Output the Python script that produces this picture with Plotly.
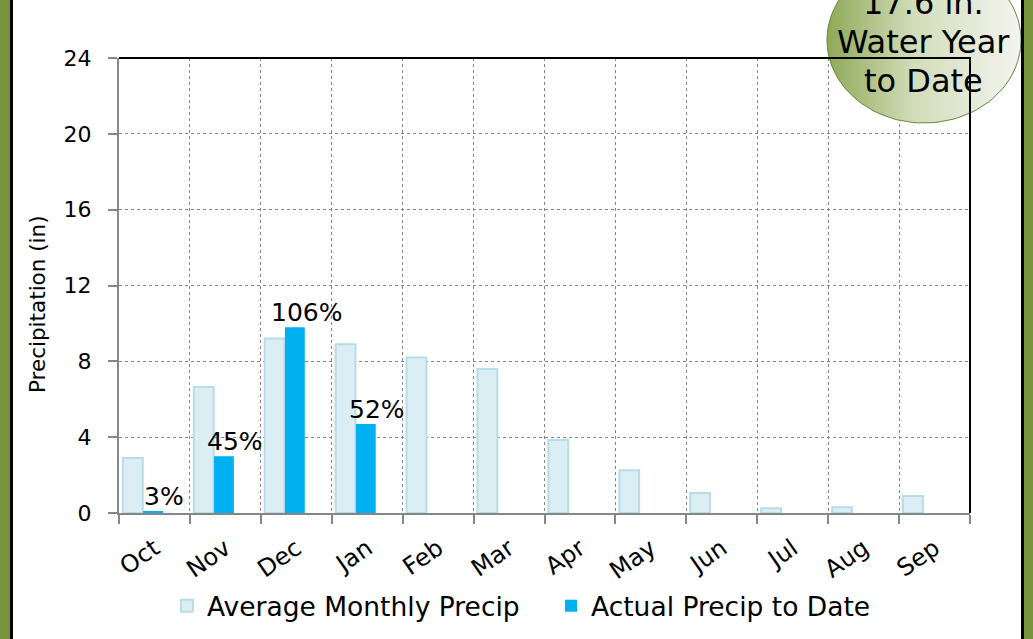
import numpy as np
import plotly.graph_objects as go

months = ["Oct", "Nov", "Dec", "Jan", "Feb", "Mar", "Apr", "May", "Jun", "Jul", "Aug", "Sep"]
avg_precip = [2.9, 6.65, 9.2, 8.9, 8.2, 7.6, 3.85, 2.25, 1.05, 0.25, 0.3, 0.9]
actual_precip = [0.1, 3.0, 9.8, 4.7]
pct_labels = ["3%", "45%", "106%", "52%"]
y_ticks = [0, 4, 8, 12, 16, 20, 24]
badge_lines = ["17.6 in.", "Water Year", "to Date"]
y_title = "Precipitation (in)"

W, H = 1033, 639
PL, PR, PT, PB = 119, 970, 58, 513   # plot-area pixel box

def fx(p):
    return p / W

def fy(p):
    return (H - p) / H

FONT = "'DejaVu Sans', sans-serif"
xs = list(range(len(months)))
grid_c = "#868686"

fig = go.Figure()
fig.add_trace(go.Bar(
    x=xs, y=avg_precip, name="Average Monthly Precip",
    marker=dict(color="#DAEEF3", line=dict(color="#B7DDE8", width=2)),
    width=0.28, offset=-0.445,
))
fig.add_trace(go.Bar(
    x=xs[:len(actual_precip)], y=actual_precip, name="Actual Precip to Date",
    marker=dict(color="#00B0F0", line=dict(color="#00B0F0", width=0)),
    width=0.28, offset=-0.16,
))

# badge ellipse with gradient (decoration, drawn on a full-figure overlay axis)
t = np.linspace(0, 2 * np.pi, 120)
cx, cy, rx, ry = 924, 40, 97, 83
fig.add_trace(go.Scatter(
    x=cx + rx * np.cos(t), y=cy + ry * np.sin(t), xaxis="x2", yaxis="y2",
    mode="lines", fill="toself", line=dict(color="#6B8536", width=1),
    fillgradient=dict(type="horizontal",
                      colorscale=[[0, "#8FA957"], [0.45, "#D2DDBA"], [1, "#F4F4F0"]]),
    showlegend=False, hoverinfo="skip",
))

for i, (v, txt) in enumerate(zip(actual_precip, pct_labels)):
    fig.add_annotation(x=xs[i], y=v, xref="x", yref="y", text=txt, showarrow=False,
                       yanchor="bottom", xanchor="center", xshift=10, yshift=-2,
                       font=dict(family=FONT, size=25, color="#000000"))

fig.update_layout(
    xaxis=dict(
        domain=[fx(PL), fx(PR)], anchor="y",
        range=[-0.5, len(months) - 0.5],
        tickmode="array", tickvals=xs, ticktext=months, tickangle=-35,
        ticks="", showgrid=False, ticklabelstandoff=10,
        showline=True, linecolor=grid_c, linewidth=2,
        tickfont=dict(family=FONT, size=24, color="#000000"),
        minor=dict(tickmode="array", tickvals=[i - 0.5 for i in range(len(months) + 1)],
                   ticks="outside", ticklen=9, tickcolor=grid_c, tickwidth=2,
                   showgrid=True, gridcolor=grid_c, griddash="dot", gridwidth=1),
        zeroline=False,
    ),
    yaxis=dict(
        domain=[fy(PB), fy(PT)], anchor="x",
        range=[0, 24], tickmode="array", tickvals=y_ticks,
        ticks="outside", ticklen=9, tickcolor=grid_c, tickwidth=2, ticklabelstandoff=12,
        showline=True, linecolor=grid_c, linewidth=2,
        showgrid=True, gridcolor=grid_c, griddash="dot", gridwidth=1,
        zeroline=False,
        tickfont=dict(family=FONT, size=22, color="#000000"),
    ),
    xaxis2=dict(domain=[0, 1], range=[0, W], visible=False, anchor="y2", fixedrange=True),
    yaxis2=dict(domain=[0, 1], range=[H, 0], visible=False, anchor="x2", fixedrange=True),
)

fig.add_annotation(xref="paper", yref="paper", x=fx(37), y=fy(304), text=y_title, textangle=-90,
                   showarrow=False, xanchor="center", yanchor="middle",
                   font=dict(family=FONT, size=21.5, color="#000000"))

shapes = [
    dict(type="line", xref="paper", yref="paper", x0=fx(PL), x1=fx(PR) + 0.001, y0=fy(PT), y1=fy(PT),
         line=dict(color="#000000", width=2)),
    dict(type="line", xref="paper", yref="paper", x0=fx(PR), x1=fx(PR), y0=fy(PB), y1=fy(PT),
         line=dict(color="#000000", width=2)),
    dict(type="rect", xref="paper", yref="paper", x0=-0.01, x1=fx(10), y0=-0.01, y1=1.01,
         fillcolor="#77933C", line=dict(width=0), layer="above"),
    dict(type="rect", xref="paper", yref="paper", x0=fx(10), x1=fx(13), y0=-0.01, y1=1.01,
         fillcolor="#000000", line=dict(width=0), layer="above"),
    dict(type="rect", xref="paper", yref="paper", x0=fx(1021), x1=fx(1024), y0=-0.01, y1=1.01,
         fillcolor="#000000", line=dict(width=0), layer="above"),
    dict(type="rect", xref="paper", yref="paper", x0=fx(1024), x1=1.01, y0=-0.01, y1=1.01,
         fillcolor="#77933C", line=dict(width=0), layer="above"),
]
fig.update_layout(shapes=shapes)

for k, line in enumerate(badge_lines):
    fig.add_annotation(xref="paper", yref="paper", x=fx(923), y=fy(3 + 39 * k), text=line,
                       showarrow=False, xanchor="center", yanchor="middle",
                       font=dict(family=FONT, size=32, color="#000000"))

fig.update_layout(
    width=W, height=H,
    margin=dict(l=0, r=0, t=0, b=0, pad=0, autoexpand=False),
    paper_bgcolor="#FFFFFF", plot_bgcolor="rgba(0,0,0,0)",
    barmode="overlay",
    showlegend=True,
    legend=dict(orientation="h", x=fx(551), xanchor="center", y=fy(606), yanchor="middle",
                font=dict(family=FONT, size=26.5, color="#000000"), itemwidth=30,
                entrywidth=339, entrywidthmode="pixels",
                bgcolor="rgba(0,0,0,0)"),
)

fig.write_html("out.html", config={"displayModeBar": False},
               post_script="document.body.style.margin='0';")
